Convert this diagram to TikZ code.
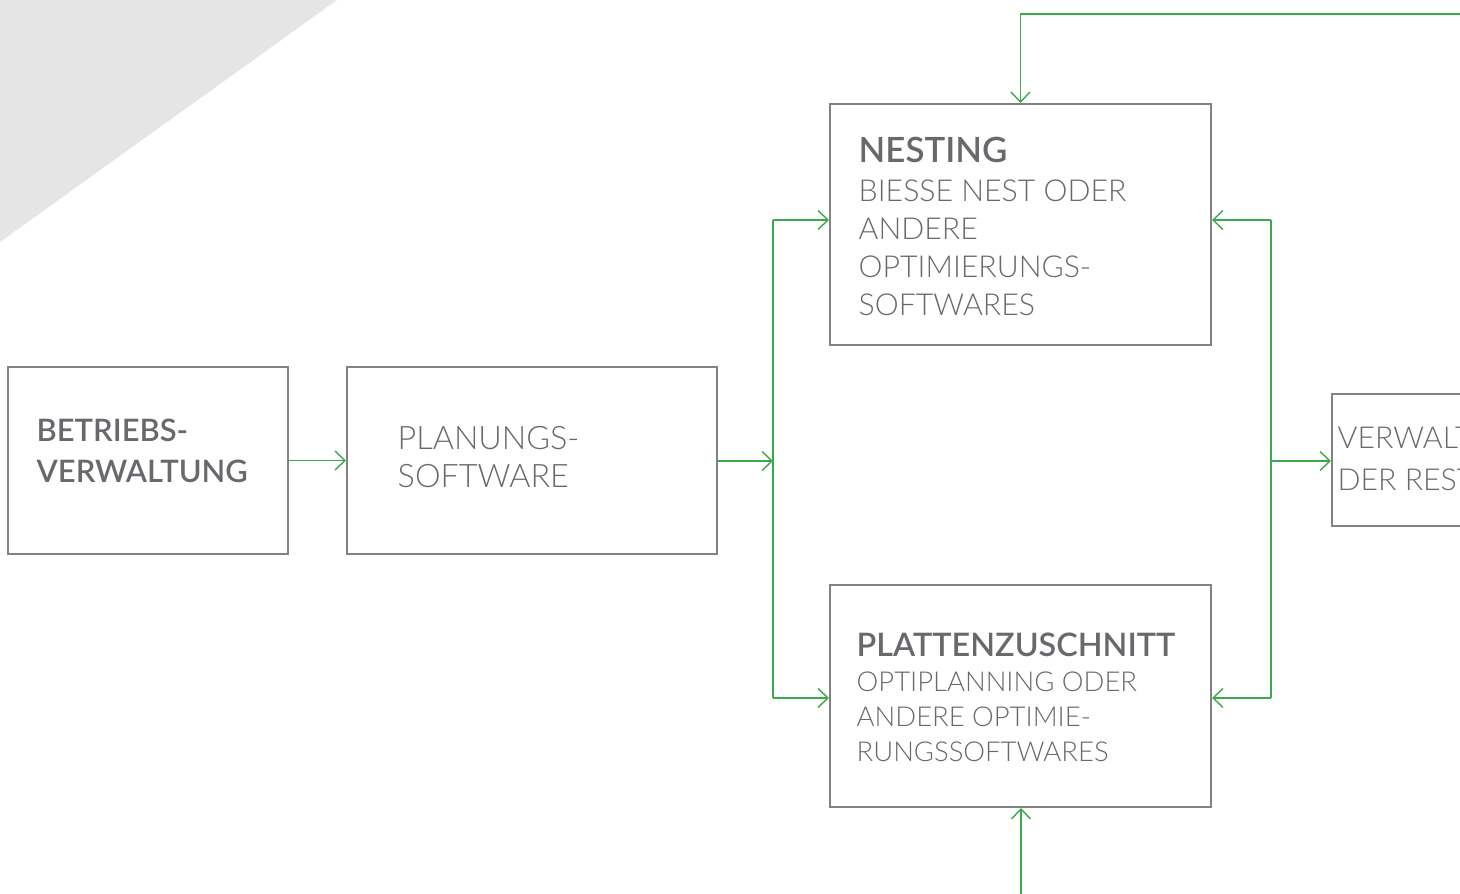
\documentclass[tikz,border=0pt]{standalone}
\usepackage{fontspec}
\setmainfont{Lato}[UprightFont={* Light},BoldFont={* Semibold}]
\usetikzlibrary{arrows.meta}
\definecolor{flowgreen}{RGB}{58,170,74}
\definecolor{boxgray}{RGB}{130,130,130}
\definecolor{txtgray}{RGB}{104,105,108}
\definecolor{wedgegray}{RGB}{229,229,229}
\newcommand{\fsz}[2]{\fontsize{#1}{#2}\selectfont}

\tikzset{
  box/.style={draw=boxgray, line width=0.55pt, inner sep=0pt},
  txt/.style={anchor=base west, align=left, text=txtgray, inner sep=0pt},
  flow/.style={draw=flowgreen, line width=0.4pt, -{Straight Barb[length=2.8pt,width=5.4pt]}},
  link/.style={draw=flowgreen, line width=0.4pt},
}

\begin{document}
\begin{tikzpicture}[x=0.01cm, y=-0.01cm]
\useasboundingbox (0,0) rectangle (1460,894);
\clip (0,0) rectangle (1460,894);
%
\fill[wedgegray] (0,0) -- (337,0) -- (0,242) -- cycle;

% boxes
\node[box, minimum width=2.80cm, minimum height=1.87cm] (betrieb) at (148,460.5) {};
\node[box, minimum width=3.70cm, minimum height=1.87cm] (plan) at (532,460.5) {};
\node[box, minimum width=3.81cm, minimum height=2.41cm] (nest) at (1020.5,224.5) {};
\node[box, minimum width=3.81cm, minimum height=2.22cm] (platt) at (1020.5,696) {};
\node[box, minimum width=3.00cm, minimum height=1.32cm] (rest) at (1482,460) {};

% texts (placed by the baseline of their last line)
\node[txt, font=\fsz{8.8pt}{11.4pt}\bfseries] (betriebtxt) at (36,482)
      {BETRIEBS-\\VERWALTUNG};
\node[txt, font=\fsz{9.2pt}{10.8pt}] (plantxt) at (397,487)
      {PLANUNGS-\\SOFTWARE};
\node[txt, font=\fsz{8.6pt}{10.9pt}] (nesttxt) at (858,316)
      {{\bfseries\fsz{9.9pt}{10.9pt}NESTING}\\BIESSE NEST ODER\\ANDERE\\OPTIMIERUNGS-\\SOFTWARES};
\node[txt, font=\fsz{7.8pt}{9.95pt}] (platttxt) at (856,761)
      {{\bfseries\fsz{9.2pt}{9.95pt}PLATTENZUSCHNITT}\\OPTIPLANNING ODER\\ANDERE OPTIMIE-\\RUNGSSOFTWARES};
\node[txt, font=\fsz{8.6pt}{11.9pt}] (resttxt) at (1337,490)
      {VERWALTUNG\\DER RESTE};

% splits
\coordinate (s1top) at (773,220);
\coordinate (s1mid) at (773,461);
\coordinate (s1bot) at (773,698);
\coordinate (s2top) at (1271,220);
\coordinate (s2mid) at (1271,461);
\coordinate (s2bot) at (1271,698);
\coordinate (topin) at (1470,14);
\coordinate (botin) at (1021,900);

\draw[flow] (betrieb) -- (plan);
\draw[flow] (plan.east |- s1mid) -- (s1mid);
\draw[link] (s1top) -- (s1bot);
\draw[flow] (s1top) -- (s1top -| nest.west);
\draw[flow] (s1bot) -- (s1bot -| platt.west);

\draw[link] (s2top) -- (s2bot);
\draw[flow] (s2top) -- (s2top -| nest.east);
\draw[flow] (s2bot) -- (s2bot -| platt.east);
\draw[flow] (s2mid) -- (s2mid -| rest.west);

\draw[flow] (topin) -| (nest.north);
\draw[flow] (botin) -- (botin |- platt.south);
%
\end{tikzpicture}
\end{document}
